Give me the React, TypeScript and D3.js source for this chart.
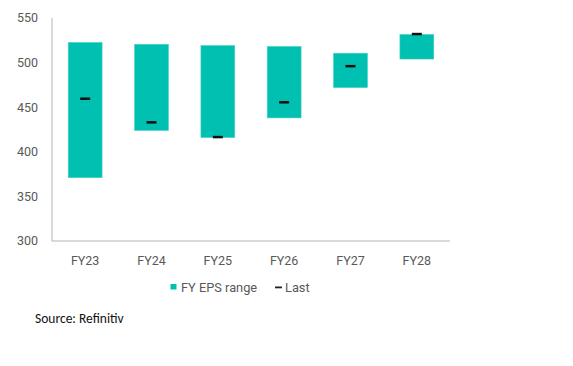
import React from "react";
import * as d3 from "d3";

const categories = ["FY23", "FY24", "FY25", "FY26", "FY27", "FY28"];
const rangeLow = [371, 424, 416, 438, 472, 504];
const rangeHigh = [522.5, 520.5, 519, 518, 510.5, 531.5];
const lastValues = [459.5, 433, 416.5, 455.5, 496, 532];
const yTicks = [300, 350, 400, 450, 500, 550];

const W = 573;
const H = 366;
const barColor = "#00c0b2";
const textColor = "#595959";
const font = "Roboto, 'DejaVu Sans', sans-serif";

export default function App() {
  const x = d3.scaleBand<string>().domain(categories).range([52, 450]).paddingInner(0.49).paddingOuter(0.245);
  const y = d3.scaleLinear().domain([300, 550]).range([241, 18]);
  const bw = x.bandwidth();
  return (
    <svg width={W} height={H} style={{ position: "absolute", left: 0, top: 0, background: "#fff" }}>
      {yTicks.map((t) => (
        <text key={t} x={38} y={y(t)} dy="0.35em" textAnchor="end" fontFamily={font} fontSize={12.5} fill={textColor}>
          {t}
        </text>
      ))}
      <line x1={52} x2={52} y1={18} y2={241} stroke="#b4b4b4" strokeWidth={1} />
      <line x1={52} x2={450} y1={241} y2={241} stroke="#b4b4b4" strokeWidth={1} />
      {categories.map((c, i) => (
        <g key={c}>
          <rect x={x(c)!} y={y(rangeHigh[i])} width={bw} height={y(rangeLow[i]) - y(rangeHigh[i])} fill={barColor} stroke="#3fd0c4" strokeWidth={0.6} />
          <rect x={x(c)! + bw / 2 - 5} y={y(lastValues[i]) - 1.25} width={10} height={2.5} fill="#111" />
          <text x={x(c)! + bw / 2} y={265} textAnchor="middle" fontFamily={font} fontSize={12.5} fill={textColor}>
            {c}
          </text>
        </g>
      ))}
      <rect x={170.5} y={284} width={6} height={5.5} fill={barColor} />
      <text x={181} y={292} fontFamily={font} fontSize={12.8} fill={textColor}>FY EPS range</text>
      <rect x={275} y={286.5} width={7} height={1.8} fill="#222" />
      <text x={285} y={292} fontFamily={font} fontSize={12.8} fill={textColor}>Last</text>
      <text x={35} y={323} fontFamily="Carlito, Calibri, 'Liberation Sans', sans-serif" fontSize={13.5} fill="#111">Source: Refinitiv</text>
    </svg>
  );
}
